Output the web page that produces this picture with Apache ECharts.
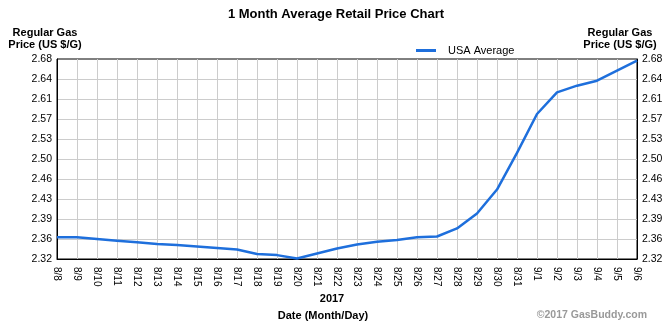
<!DOCTYPE html>
<html>
<head>
<meta charset="utf-8">
<script src="https://cdn.jsdelivr.net/npm/echarts@6/dist/echarts.min.js"></script>
<style>
  html, body { margin: 0; padding: 0; background: #fff; }
  #chart { width: 672px; height: 327px; }
</style>
</head>
<body>
<div id="chart"></div>
<script>
// Daily dates, August 8 through September 6, 2017
const dates = ['8/8','8/9','8/10','8/11','8/12','8/13','8/14','8/15','8/16','8/17',
  '8/18','8/19','8/20','8/21','8/22','8/23','8/24','8/25','8/26','8/27',
  '8/28','8/29','8/30','8/31','9/1','9/2','9/3','9/4','9/5','9/6'];

// USA average regular gas price, US $ per gallon
const usaAverage = [2.359, 2.359, 2.356, 2.353, 2.350, 2.347, 2.345, 2.3425, 2.340, 2.337,
  2.329, 2.327, 2.321, 2.330, 2.339, 2.346, 2.351, 2.354, 2.359, 2.3605,
  2.375, 2.402, 2.445, 2.511, 2.581, 2.620, 2.632, 2.641, 2.659, 2.677];

// Price axis range, step and the printed tick labels
const priceMin = 2.32;
const priceMax = 2.68;
const priceStep = 0.036;
const priceTickLabels = ['2.32','2.36','2.39','2.43','2.46','2.50','2.53','2.57','2.61','2.64','2.68'];

const FONT = '"Liberation Sans", Arial, sans-serif';

const chart = echarts.init(document.getElementById('chart'), null, { renderer: 'canvas' });

function priceAxis(pos) {
  return {
    type: 'value',
    position: pos,
    min: priceMin,
    max: priceMax,
    interval: priceStep,
    axisLine: { show: true, lineStyle: { color: '#000', width: 1 } },
    axisTick: { show: false },
    axisLabel: {
      color: '#000', fontFamily: FONT, fontSize: 10.5, margin: 5,
      formatter: v => {
        const i = Math.round((v - priceMin) / priceStep);
        return priceTickLabels[i] !== undefined ? priceTickLabels[i] : v.toFixed(2);
      }
    },
    splitLine: { show: pos === 'left', showMinLine: false, showMaxLine: false,
      lineStyle: { color: '#cccccc', width: 1 } }
  };
}

chart.setOption({
  animation: false,
  backgroundColor: '#fff',
  textStyle: { fontFamily: FONT },
  grid: {
    left: 57, top: 59, width: 580, height: 200,
    show: true, borderColor: '#000', borderWidth: 1, backgroundColor: 'transparent'
  },
  legend: {
    left: 411, top: 40,
    icon: 'rect', itemWidth: 20, itemHeight: 3,
    textStyle: { color: '#000', fontSize: 11, fontFamily: FONT, padding: [0, 0, 0, 7] },
    data: ['USA Average']
  },
  xAxis: {
    type: 'category',
    data: dates,
    boundaryGap: false,
    axisLine: { show: true, lineStyle: { color: '#000', width: 1 } },
    axisTick: { show: false },
    axisLabel: { color: '#000', fontSize: 10, fontFamily: FONT, rotate: -90, margin: 8, interval: 0 },
    splitLine: { show: true, showMinLine: false, showMaxLine: false,
      lineStyle: { color: '#cccccc', width: 1 } }
  },
  yAxis: [priceAxis('left'), priceAxis('right')],
  series: [{
    name: 'USA Average',
    type: 'line',
    data: usaAverage,
    symbol: 'none',
    smooth: false,
    lineStyle: { color: '#1e6fdc', width: 2.5 },
    itemStyle: { color: '#1e6fdc' }
  }],
  graphic: [
    { type: 'text', left: 'center', top: 8,
      style: { text: '1 Month Average Retail Price Chart', font: 'bold 13px ' + FONT, fill: '#000' } },
    { type: 'text', x: 45, y: 26.5,
      style: { text: 'Regular Gas\nPrice (US $/G)', font: 'bold 11px ' + FONT, fill: '#000',
        align: 'center', lineHeight: 12 } },
    { type: 'text', x: 620, y: 26.5,
      style: { text: 'Regular Gas\nPrice (US $/G)', font: 'bold 11px ' + FONT, fill: '#000',
        align: 'center', lineHeight: 12 } },
    { type: 'text', x: 332, y: 293,
      style: { text: '2017', font: 'bold 11px ' + FONT, fill: '#000', align: 'center' } },
    { type: 'text', x: 323, y: 310,
      style: { text: 'Date (Month/Day)', font: 'bold 11px ' + FONT, fill: '#000', align: 'center' } },
    { type: 'text', x: 647, y: 310,
      style: { text: '©2017 GasBuddy.com', font: 'bold 10.5px ' + FONT, fill: '#999', align: 'right' } }
  ]
});
</script>
</body>
</html>
